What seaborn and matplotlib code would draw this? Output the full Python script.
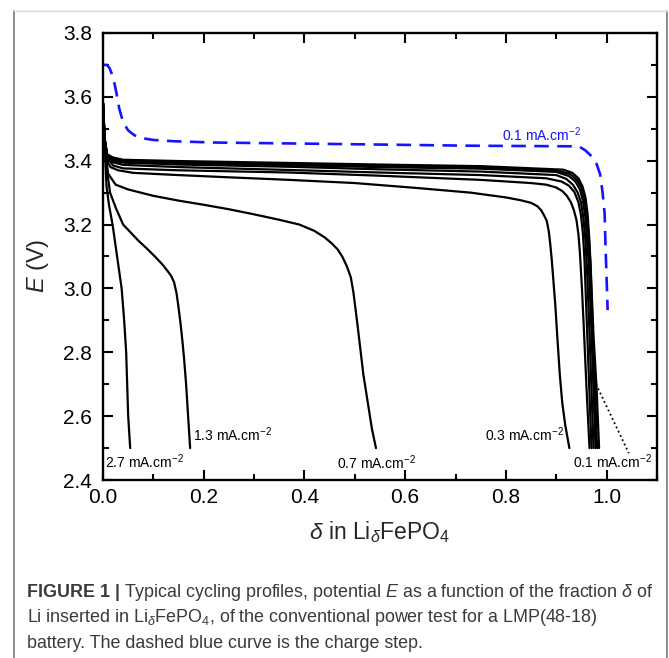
import matplotlib
matplotlib.use("Agg")
import matplotlib.pyplot as plt
from matplotlib.ticker import MultipleLocator
from matplotlib.lines import Line2D
import seaborn as sns

# ---- discharge profiles: delta in Li_delta FePO4 vs potential E (V) ----
d27_x = [0.0, 0.003, 0.007, 0.012, 0.019, 0.028, 0.037, 0.042, 0.046, 0.048, 0.050, 0.054]
d27_E = [3.58, 3.45, 3.32, 3.26, 3.20, 3.10, 3.00, 2.90, 2.80, 2.70, 2.60, 2.50]

d13_x = [0.0, 0.004, 0.008, 0.014, 0.026, 0.040, 0.055, 0.070, 0.087, 0.103, 0.118,
         0.128, 0.135, 0.141, 0.146, 0.150, 0.154, 0.158, 0.161, 0.165, 0.169, 0.173]
d13_E = [3.58, 3.46, 3.37, 3.30, 3.25, 3.20, 3.175, 3.15, 3.125, 3.10, 3.075,
         3.055, 3.04, 3.02, 2.985, 2.94, 2.89, 2.83, 2.78, 2.70, 2.60, 2.50]

d07_x = [0.0, 0.004, 0.010, 0.025, 0.05, 0.10, 0.15, 0.20, 0.25, 0.30, 0.35, 0.39,
         0.42, 0.44, 0.455, 0.466, 0.475, 0.484, 0.492, 0.497, 0.501, 0.505, 0.511,
         0.517, 0.526, 0.534, 0.542]
d07_E = [3.58, 3.44, 3.36, 3.325, 3.31, 3.29, 3.275, 3.262, 3.248, 3.232, 3.215, 3.20,
         3.18, 3.16, 3.14, 3.122, 3.10, 3.07, 3.035, 2.99, 2.94, 2.89, 2.81,
         2.73, 2.64, 2.56, 2.50]

d03_x = [0.0, 0.003, 0.008, 0.015, 0.03, 0.06, 0.15, 0.25, 0.37, 0.50, 0.62, 0.73,
         0.80, 0.83, 0.85, 0.862, 0.870, 0.876, 0.881, 0.885, 0.888, 0.891, 0.894,
         0.898, 0.902, 0.907, 0.912, 0.918, 0.926]
d03_E = [3.58, 3.47, 3.40, 3.38, 3.37, 3.362, 3.355, 3.348, 3.34, 3.33, 3.315, 3.30,
         3.285, 3.276, 3.268, 3.258, 3.245, 3.228, 3.212, 3.18, 3.14, 3.09, 3.03,
         2.95, 2.85, 2.73, 2.64, 2.57, 2.50]

dA_x = [0.0, 0.003, 0.008, 0.02, 0.04, 0.15, 0.37, 0.55, 0.75, 0.85, 0.88, 0.90,
        0.912, 0.921, 0.929, 0.935, 0.940, 0.944, 0.947, 0.951, 0.954, 0.960, 0.966]
dA_E = [3.58, 3.47, 3.41, 3.385, 3.376, 3.37, 3.363, 3.353, 3.34, 3.33, 3.325, 3.316,
        3.305, 3.29, 3.27, 3.245, 3.215, 3.17, 3.11, 3.00, 2.90, 2.69, 2.50]

dB_x = [0.0, 0.003, 0.008, 0.02, 0.04, 0.15, 0.37, 0.55, 0.75, 0.88, 0.91, 0.925,
        0.936, 0.944, 0.949, 0.953, 0.956, 0.960, 0.965, 0.970]
dB_E = [3.58, 3.47, 3.415, 3.395, 3.387, 3.38, 3.371, 3.363, 3.355, 3.345, 3.335, 3.322,
        3.302, 3.27, 3.23, 3.17, 3.09, 2.92, 2.71, 2.50]

dC_x = [0.0, 0.003, 0.008, 0.02, 0.04, 0.15, 0.37, 0.55, 0.75, 0.90, 0.92, 0.933,
        0.942, 0.949, 0.954, 0.958, 0.961, 0.966, 0.970, 0.974]
dC_E = [3.58, 3.47, 3.42, 3.40, 3.394, 3.388, 3.381, 3.373, 3.366, 3.355, 3.343, 3.325,
        3.302, 3.27, 3.22, 3.15, 3.06, 2.86, 2.68, 2.50]

dD_x = [0.0, 0.003, 0.008, 0.02, 0.04, 0.15, 0.37, 0.55, 0.75, 0.90, 0.925, 0.938,
        0.947, 0.953, 0.958, 0.962, 0.965, 0.970, 0.974, 0.978]
dD_E = [3.58, 3.47, 3.42, 3.405, 3.398, 3.393, 3.386, 3.38, 3.375, 3.365, 3.352, 3.335,
        3.31, 3.275, 3.22, 3.14, 3.06, 2.86, 2.68, 2.50]

dE_x = [0.0, 0.003, 0.008, 0.02, 0.04, 0.15, 0.37, 0.55, 0.75, 0.90, 0.928, 0.941,
        0.950, 0.956, 0.961, 0.965, 0.968, 0.972, 0.977, 0.981]
dE_E = [3.58, 3.47, 3.42, 3.408, 3.40, 3.396, 3.39, 3.384, 3.379, 3.37, 3.358, 3.34,
        3.315, 3.28, 3.225, 3.15, 3.07, 2.88, 2.69, 2.50]

d01_x = [0.0, 0.003, 0.008, 0.02, 0.04, 0.15, 0.37, 0.55, 0.75, 0.914, 0.932, 0.944,
         0.952, 0.958, 0.962, 0.965, 0.968, 0.974, 0.980, 0.985]
d01_E = [3.58, 3.47, 3.42, 3.41, 3.403, 3.399, 3.393, 3.388, 3.383, 3.372, 3.362, 3.345,
         3.32, 3.285, 3.235, 3.17, 3.08, 2.85, 2.69, 2.50]

# ---- charge step at 0.1 mA.cm-2 ----
ch_x = [0.0, 0.008, 0.013, 0.018, 0.023, 0.027, 0.032, 0.040, 0.050, 0.062, 0.080,
        0.10, 0.14, 0.22, 0.48, 0.73, 0.945, 0.958, 0.970, 0.980, 0.987, 0.992,
        0.996, 0.998, 1.002]
ch_E = [3.70, 3.70, 3.69, 3.67, 3.64, 3.61, 3.565, 3.52, 3.495, 3.48, 3.47,
        3.465, 3.461, 3.457, 3.452, 3.447, 3.445, 3.432, 3.414, 3.39, 3.358, 3.30,
        3.234, 3.122, 2.932]

# current-density annotations: text, delta, E
rate_labels = ["2.7", "1.3", "0.7", "0.3", "0.1"]
rate_x = [0.004, 0.179, 0.465, 0.759, 0.933]
rate_E = [2.457, 2.541, 2.455, 2.541, 2.456]
charge_label_x, charge_label_E = 0.792, 3.48
leader_x = [0.979, 1.044]
leader_E = [2.70, 2.484]

x_ticks = [0.0, 0.2, 0.4, 0.6, 0.8, 1.0]
y_ticks = [2.4, 2.6, 2.8, 3.0, 3.2, 3.4, 3.6, 3.8]

discharge = [(d27_x, d27_E), (d13_x, d13_E), (d07_x, d07_E), (d03_x, d03_E),
             (dA_x, dA_E), (dB_x, dB_E), (dC_x, dC_E), (dD_x, dD_E),
             (dE_x, dE_E), (d01_x, d01_E)]

sns.set_style("ticks")
plt.rcParams["font.family"] = ["Liberation Sans", "DejaVu Sans"]
plt.rcParams["mathtext.fontset"] = "custom"
plt.rcParams["mathtext.rm"] = "Liberation Sans"
plt.rcParams["mathtext.it"] = "Liberation Sans:italic"
plt.rcParams["mathtext.bf"] = "Liberation Sans:bold"

W, H = 669, 658
fig = plt.figure(figsize=(W / 100, H / 100), dpi=100)
fig.patch.set_facecolor("white")
ax = fig.add_axes([103 / W, 1 - 480 / H, 554 / W, 447 / H])

for xs, es in discharge:
    sns.lineplot(x=xs, y=es, ax=ax, color="black", lw=1.6, sort=False,
                 estimator=None)

sns.lineplot(x=ch_x, y=ch_E, ax=ax, color="#1414ff", lw=1.9, sort=False,
             estimator=None)
ax.lines[-1].set_dashes((5.5, 3.2))

ax.plot(leader_x, leader_E, color="black", lw=1.3, ls=(0, (1, 1.6)))

ax.set_xlim(0, 1.1)
ax.set_ylim(2.4, 3.8)
ax.set_xticks(x_ticks)
ax.set_yticks(y_ticks)
ax.set_xticklabels([f"{v:.1f}" for v in x_ticks])
ax.set_yticklabels([f"{v:.1f}" for v in y_ticks])
ax.xaxis.set_minor_locator(MultipleLocator(0.1))
ax.yaxis.set_minor_locator(MultipleLocator(0.1))
ax.tick_params(which="both", direction="in", top=True, right=True,
               width=1.5, colors="black")
ax.tick_params(which="major", length=7, labelsize=15)
ax.tick_params(axis="y", which="major", pad=8)
ax.tick_params(axis="x", which="major", pad=6)
ax.tick_params(which="minor", length=4.5)
for sp in ax.spines.values():
    sp.set_linewidth(1.7)
    sp.set_color("black")

ax.set_xlabel(r"$\delta$ in Li$_{\delta}$FePO$_4$", fontsize=16.5)
ax.set_ylabel(r"$E$ (V)", fontsize=17)
ax.xaxis.set_label_coords(0.5, -0.088)
ax.yaxis.set_label_coords(-0.093, 0.48)

for lab, lx, le in zip(rate_labels, rate_x, rate_E):
    ax.text(lx, le, lab + r" mA.cm$^{-2}$", fontsize=10, ha="left",
            va="center", color="black")
ax.text(charge_label_x, charge_label_E, rate_labels[-1] + r" mA.cm$^{-2}$",
        fontsize=10, ha="left", va="center", color="#1414ff")

# figure frame
fig.add_artist(Line2D([14 / W, 14 / W], [0, 1 - 11 / H], transform=fig.transFigure,
                      color="#7a7a7a", lw=1.2))
fig.add_artist(Line2D([667 / W, 667 / W], [0, 1 - 11 / H], transform=fig.transFigure,
                      color="#7a7a7a", lw=1.2))
fig.add_artist(Line2D([14 / W, 667 / W], [1 - 11 / H, 1 - 11 / H],
                      transform=fig.transFigure, color="#d8d8d8", lw=1.0))

# caption
cap_fs = 12.9
cap_col = "#3a3a3a"
x0 = 27 / W
base = [597, 622.5, 647.5]
fig.canvas.draw()
renderer = fig.canvas.get_renderer()
tb = fig.text(x0, 1 - base[0] / H, "FIGURE 1 |", fontsize=cap_fs, fontweight="bold",
              color=cap_col, va="baseline", ha="left")
wb = tb.get_window_extent(renderer).width
fig.text(x0 + (wb + 4) / W, 1 - base[0] / H,
         r"Typical cycling profiles, potential $E$ as a function of the fraction $\delta$ of",
         fontsize=cap_fs, color=cap_col, va="baseline", ha="left")
fig.text(x0, 1 - base[1] / H,
         r"Li inserted in Li$_{\delta}$FePO$_4$, of the conventional power test for a LMP(48-18)",
         fontsize=cap_fs, color=cap_col, va="baseline", ha="left")
fig.text(x0, 1 - base[2] / H,
         "battery. The dashed blue curve is the charge step.",
         fontsize=cap_fs, color=cap_col, va="baseline", ha="left")

fig.savefig("out.png", dpi=100, facecolor="white")
